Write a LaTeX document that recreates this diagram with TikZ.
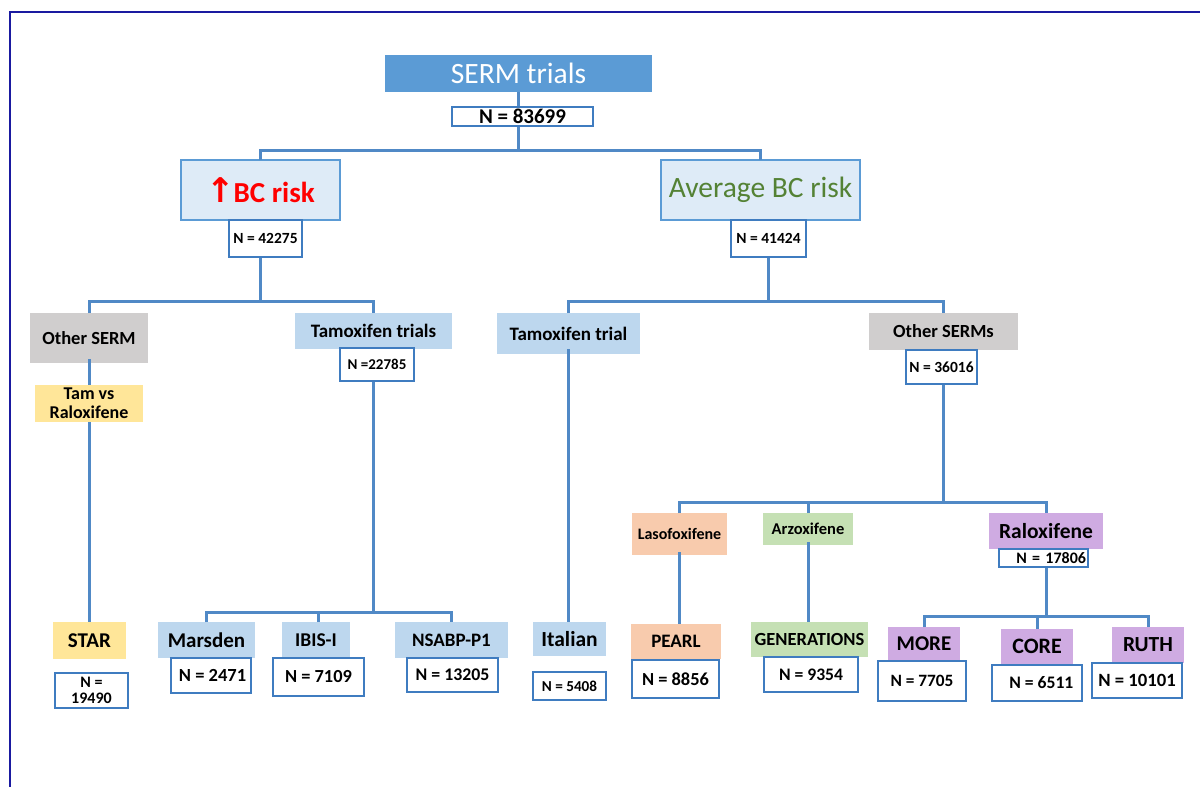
\documentclass[tikz,border=0pt]{standalone}
\usepackage{fontspec}
\setmainfont{Carlito}
\newfontfamily\dejavu{DejaVu Sans}
\newcommand\fsz[2]{\fontsize{#1}{#2}\selectfont}
\definecolor{sermblue}{HTML}{5B9BD5}
\definecolor{lightblue}{HTML}{DEEBF7}
\definecolor{tamblue}{HTML}{BDD7EE}
\definecolor{greyb}{HTML}{D0CECE}
\definecolor{yell}{HTML}{FFE699}
\definecolor{orng}{HTML}{F8CBAD}
\definecolor{grn}{HTML}{C5E0B4}
\definecolor{purp}{HTML}{CFABE2}
\definecolor{conncol}{HTML}{5089C6}
\definecolor{nbord}{HTML}{3F7CC0}
\definecolor{avggreen}{HTML}{548235}
\definecolor{framecol}{HTML}{1A1AA0}
\tikzset{
  bx/.style={anchor=north west, inner sep=0pt, outer sep=0pt, align=center},
  nb/.style={bx, draw=nbord, fill=white, line width=1.3pt, font=\bfseries},
  conn/.style={draw=conncol, line width=3pt},
}
\begin{document}
\begin{tikzpicture}[x=1pt,y=-1pt]
\useasboundingbox (0,0) rectangle (1200,787);
% frame
\draw[framecol, line width=1.8pt] (10,787) -- (10,12) -- (1200,12);

% coordinates for buses
\coordinate (y150) at (0,150);
\coordinate (y301) at (0,301);
\coordinate (y612) at (0,612);
\coordinate (y502) at (0,502);
\coordinate (y616) at (0,616);

% top
\node[bx, fill=sermblue, text=white, minimum width=267pt, minimum height=37pt, font=\fsz{29.5}{32}] (serm) at (385,55) {SERM trials};
\node[bx, fill=lightblue, draw=sermblue, line width=1.2pt, minimum width=159pt, minimum height=60pt, text=red, font=\bfseries\fsz{29}{32}] (bc) at (181,160) {{\dejavu\bfseries\fsz{34}{32}↑}\kern-1ptBC risk};
\node[bx, fill=lightblue, draw=sermblue, line width=1.2pt, minimum width=199pt, minimum height=60pt, text=avggreen, font=\fsz{29.5}{32}] (avg) at (661,160) {Average BC risk};

% level 2
\node[bx, fill=greyb, minimum width=118pt, minimum height=50pt, font=\bfseries\fsz{18.5}{20}] (oth) at (30,313) {Other SERM};
\node[bx, fill=yell, minimum width=108pt, minimum height=37pt, font=\bfseries\fsz{18}{19}] (tamv) at (35,385) {Tam vs\\Raloxifene};
\node[bx, fill=tamblue, minimum width=157pt, minimum height=36pt, font=\bfseries\fsz{19}{20}] (tamt) at (295,313) {Tamoxifen trials};
\node[bx, fill=tamblue, minimum width=143pt, minimum height=41pt, font=\bfseries\fsz{19}{20}] (tamt2) at (497,313) {Tamoxifen trial};
\node[bx, fill=greyb, minimum width=149pt, minimum height=37pt, font=\bfseries\fsz{18.5}{20}] (oths) at (869,313) {Other SERMs};

% level 3 (other SERMs)
\node[bx, fill=orng, minimum width=95pt, minimum height=42pt, font=\bfseries\fsz{16}{18}] (laso) at (632,513) {Lasofoxifene};
\node[bx, fill=grn, minimum width=90pt, minimum height=32pt, font=\bfseries\fsz{16.5}{18}] (arz) at (763,513) {Arzoxifene};
\node[bx, fill=purp, minimum width=114pt, minimum height=36pt, font=\bfseries\fsz{21.5}{24}] (ralo) at (989,513) {Raloxifene};

% leaves
\node[bx, fill=yell, minimum width=73pt, minimum height=37pt, font=\bfseries\fsz{21}{23}] (star) at (53,622) {STAR};
\node[bx, fill=tamblue, minimum width=97pt, minimum height=36pt, font=\bfseries\fsz{21}{23}] (mars) at (158,622) {Marsden};
\node[bx, fill=tamblue, minimum width=68pt, minimum height=36pt, font=\bfseries\fsz{19.5}{22}] (ibis) at (282,622) {IBIS-I};
\node[bx, fill=tamblue, minimum width=113pt, minimum height=36pt, font=\bfseries\fsz{19}{22}] (nsabp) at (395,622) {NSABP-P1};
\node[bx, fill=tamblue, minimum width=73pt, minimum height=34pt, font=\bfseries\fsz{21.5}{23}] (ital) at (533,622) {Italian};
\node[bx, fill=orng, minimum width=90pt, minimum height=35pt, font=\bfseries\fsz{19}{21}] (pearl) at (631,624) {PEARL};
\node[bx, fill=grn, minimum width=117pt, minimum height=35pt, font=\bfseries\fsz{18.5}{21}] (gen) at (751,622) {GENERATIONS};
\node[bx, fill=purp, minimum width=72pt, minimum height=33pt, font=\bfseries\fsz{21}{23}] (more) at (888,627) {MORE};
\node[bx, fill=purp, minimum width=72pt, minimum height=35pt, font=\bfseries\fsz{22}{24}] (core) at (1001,629) {CORE};
\node[bx, fill=purp, minimum width=72pt, minimum height=36pt, font=\bfseries\fsz{21.5}{24}] (ruth) at (1112,627) {RUTH};

% connectors
\draw[conn] (serm.south) -- (serm.south |- y150);
\draw[conn] (bc.north) |- (serm.south |- y150) -| (avg.north);
\draw[conn] (bc.south) -- (bc.south |- y301);
\draw[conn] (oth.north) |- (bc.south |- y301) -| (tamt.north);
\draw[conn] ([yshift=-1pt]avg.south -| 768,0) -- (768,301);
\draw[conn] (tamt2.north) |- (768,301) -| (oths.north);
\draw[conn] ([yshift=4pt]oth.south) -- (tamv.north);
\draw[conn] (tamv.south) -- (tamv.south |- star.north);
\draw[conn] (tamt.south) -- (tamt.south |- y612);
\draw[conn] (mars.north) |- (tamt.south |- y612) -| (nsabp.north);
\draw[conn] (ibis.north -| 318,0) -- (318,612);
\draw[conn] ([yshift=5pt]tamt2.south) -- (tamt2.south |- ital.north);
\draw[conn] (oths.south) -- (oths.south |- y502);
\draw[conn] (laso.north) |- (oths.south |- y502) -| (ralo.north);
\draw[conn] (arz.north) -- (arz.north |- y502);
\draw[conn] ([yshift=3pt]laso.south) -- (laso.south |- pearl.north);
\draw[conn] ([yshift=3pt]arz.south) -- (arz.south |- gen.north);
\draw[conn] (ralo.south) -- (ralo.south |- y616);
\draw[conn] (more.north) |- (ralo.south |- y616) -| (ruth.north);
\draw[conn] (core.north) -- (core.north |- y616);

% N boxes (over connectors)
\node[nb, minimum width=141pt, minimum height=19pt, font=\bfseries\fsz{21}{22}] (n0) at (452,107) {N = 83699};
\node[nb, minimum width=73pt, minimum height=37pt, font=\bfseries\fsz{15.5}{17}] (n1) at (229,220) {N = 42275};
\node[nb, minimum width=75pt, minimum height=37pt, font=\bfseries\fsz{15.5}{17}] (n2) at (731,220) {N = 41424};
\node[nb, minimum width=74pt, minimum height=33pt, font=\bfseries\fsz{15}{17}] (n3) at (340,348) {N =22785};
\node[nb, minimum width=71pt, minimum height=34pt, font=\bfseries\fsz{15.5}{17}] (n4) at (906,350) {N = 36016};
\node[nb, minimum width=89pt, minimum height=18pt, font=\bfseries\fsz{16}{17}, text width=85pt, align=right] (n5) at (999,549) {N = 17806};
\node[nb, minimum width=73pt, minimum height=35pt, font=\bfseries\fsz{16}{16}] (n6) at (55,673) {N =\\19490};
\node[nb, minimum width=80pt, minimum height=35pt, font=\bfseries\fsz{18.5}{20}] (n7) at (171,658) {\,N = 2471};
\node[nb, minimum width=91pt, minimum height=38pt, font=\bfseries\fsz{18.4}{20}] (n8) at (273,658) {N = 7109};
\node[nb, minimum width=91pt, minimum height=34pt, font=\bfseries\fsz{17.8}{20}] (n9) at (407,658) {N = 13205};
\node[nb, minimum width=73pt, minimum height=28pt, font=\bfseries\fsz{15.2}{17}] (n10) at (533,672) {N = 5408};
\node[nb, minimum width=87pt, minimum height=38pt, font=\bfseries\fsz{18.4}{20}] (n11) at (632,660) {N = 8856};
\node[nb, minimum width=94pt, minimum height=35pt, font=\bfseries\fsz{17.6}{20}] (n12) at (764,657) {N = 9354};
\node[nb, minimum width=88pt, minimum height=40pt, font=\bfseries\fsz{17.3}{20}] (n13) at (878,661) {N = 7705};
\node[nb, minimum width=90pt, minimum height=36pt, font=\bfseries\fsz{17.6}{20}] (n14) at (992,665) {\,\,\,N = 6511};
\node[nb, minimum width=90pt, minimum height=35pt, font=\bfseries\fsz{18.7}{20}] (n15) at (1092,663) {N = 10101};
\end{tikzpicture}
\end{document}
